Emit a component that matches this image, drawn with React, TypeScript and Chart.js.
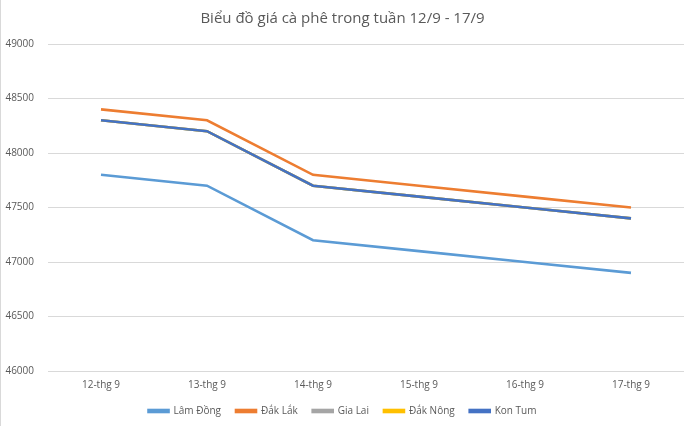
import React, { useEffect, useRef } from "react";
import { Chart, registerables } from "chart.js";

Chart.register(...registerables);

const categories = ["12-thg 9", "13-thg 9", "14-thg 9", "15-thg 9", "16-thg 9", "17-thg 9"];
const lamDong = [47800, 47700, 47200, 47100, 47000, 46900];
const dakLak = [48400, 48300, 47800, 47700, 47600, 47500];
const giaLai = [48300, 48200, 47700, 47600, 47500, 47400];
const dakNong = [48300, 48200, 47700, 47600, 47500, 47400];
const konTum = [48300, 48200, 47700, 47600, 47500, 47400];
const titleText = "Biểu đồ giá cà phê trong tuần 12/9 - 17/9";

const FONT = "'Open Sans', 'Noto Sans', sans-serif";

export default function App() {
  const ref = useRef<HTMLCanvasElement>(null);
  useEffect(() => {
    document.body.style.margin = "0";
    const mk = (label: string, data: number[], color: string, order: number) => ({
      label,
      data,
      order,
      borderColor: color,
      backgroundColor: color,
      borderWidth: 2.6,
      pointRadius: 0,
      tension: 0,
      fill: false,
    });
    const chart = new Chart(ref.current!, {
      type: "line",
      data: {
        labels: categories,
        datasets: [
          mk("Lâm Đồng", lamDong, "#5B9BD5", 5),
          mk("Đắk Lắk", dakLak, "#ED7D31", 4),
          mk("Gia Lai", giaLai, "#A5A5A5", 3),
          mk("Đắk Nông", dakNong, "#FFC000", 2),
          mk("Kon Tum", konTum, "#4472C4", 1),
        ],
      },
      options: {
        animation: false,
        responsive: false,
        layout: { padding: { left: 0, right: 16, top: 6, bottom: 0 } },
        plugins: {
          title: {
            display: true,
            text: titleText,
            color: "#595959",
            font: { family: FONT, size: 15, weight: "normal" },
            padding: { top: 4, bottom: 16 },
          },
          legend: {
            position: "bottom",
            labels: {
              color: "#595959",
              font: { family: FONT, size: 10 },
              boxWidth: 20,
              boxHeight: 2,
              padding: 15,
              sort: (a: any, b: any) => a.datasetIndex - b.datasetIndex,
            },
          },
          tooltip: { enabled: false },
        },
        scales: {
          x: {
            offset: true,
            grid: { display: false },
            border: { display: false },
            ticks: { color: "#595959", font: { family: FONT, size: 10 }, padding: 0, maxRotation: 0 },
          },
          y: {
            min: 46000,
            max: 49000,
            grid: { color: "#D9D9D9", drawTicks: false },
            border: { display: false },
            ticks: {
              stepSize: 500,
              color: "#595959",
              font: { family: FONT, size: 10 },
              padding: 14,
              callback: (v: any) => String(v),
            },
            afterFit: (s: any) => {
              s.width = 47;
            },
          },
        },
      },
    });
    return () => chart.destroy();
  }, []);
  return (
    <div style={{ width: 700, height: 426, background: "#fff", borderLeft: "1px solid #D9D9D9", boxSizing: "border-box" }}>
      <canvas ref={ref} width={699} height={426} />
    </div>
  );
}
